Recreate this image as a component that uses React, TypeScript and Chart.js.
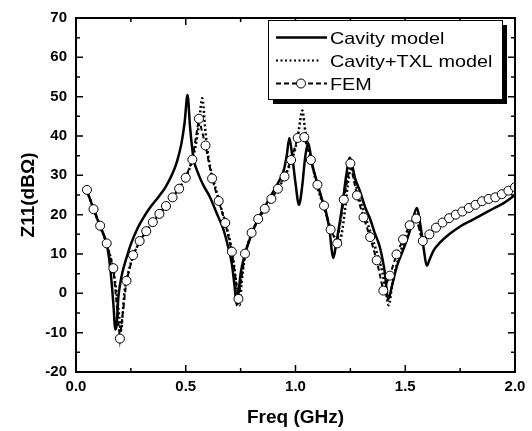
import React, { useEffect, useRef } from "react";
import { Chart, registerables } from "chart.js";

Chart.register(...registerables);

// FEM (circles, dashed)
const femFreq = [
  0.05, 0.08, 0.11, 0.14, 0.17, 0.2, 0.23, 0.26, 0.29, 0.32, 0.35, 0.38, 0.41, 0.44, 0.47, 0.5,
  0.53, 0.56, 0.59, 0.62, 0.65, 0.68, 0.71, 0.74, 0.77, 0.8, 0.83, 0.86, 0.89, 0.92, 0.95, 0.98,
  1.01, 1.04, 1.07, 1.1, 1.13, 1.16, 1.19, 1.22, 1.25, 1.28, 1.31, 1.34, 1.37, 1.4, 1.43, 1.46,
  1.49, 1.52, 1.55, 1.58, 1.61, 1.64, 1.67, 1.7, 1.73, 1.76, 1.79, 1.82, 1.85, 1.88, 1.91, 1.94,
  1.97, 2.0,
];
const femZ = [
  26.3, 21.4, 17.2, 12.7, 6.4, -11.5, 3.2, 9.7, 13.3, 15.8, 18.1, 20.2, 22.2, 24.4, 26.6, 29.4,
  34.0, 44.4, 37.6, 29.2, 23.5, 17.9, 10.6, -1.4, 10.1, 15.4, 18.9, 21.5, 24.0, 26.6, 29.7, 33.9,
  39.5, 39.7, 33.9, 27.6, 22.3, 16.2, 12.7, 23.8, 33.0, 24.9, 19.3, 14.3, 8.4, 0.7, 4.5, 9.9,
  13.7, 17.3, 19.0, 13.3, 15.0, 16.7, 18.0, 19.1, 20.0, 20.8, 21.7, 22.5, 23.4, 24.0, 24.4, 25.2,
  26.1, 27.0,
];

// Cavity model (solid)
const cavFreq = [
  0.05, 0.08, 0.11, 0.14, 0.155, 0.165, 0.172, 0.178, 0.185, 0.193, 0.2, 0.21, 0.23, 0.25, 0.28,
  0.31, 0.34, 0.38, 0.41, 0.44, 0.46, 0.48, 0.495, 0.508, 0.52, 0.535, 0.56, 0.58, 0.61, 0.64,
  0.67, 0.69, 0.71, 0.722, 0.732, 0.74, 0.75, 0.77, 0.8, 0.83, 0.86, 0.89, 0.92, 0.945, 0.96,
  0.972, 0.985, 1.0, 1.016, 1.03, 1.045, 1.058, 1.075, 1.097, 1.12, 1.14, 1.155, 1.165, 1.172,
  1.185, 1.2, 1.215, 1.23, 1.248, 1.27, 1.294, 1.32, 1.339, 1.36, 1.385, 1.405, 1.423, 1.44,
  1.46, 1.49, 1.51, 1.53, 1.552, 1.57, 1.585, 1.598, 1.61, 1.63, 1.66, 1.7, 1.75, 1.8, 1.85, 1.9,
  1.95, 2.0,
];
const cavZ = [
  26.0, 21.5, 17.0, 12.5, 7.0, 1.0, -4.0, -9.2, -8.0, -1.0, 2.0, 5.0, 9.0, 12.5, 16.5,
  19.5, 22.0, 24.8, 27.2, 30.5, 33.5, 38.0, 43.5, 50.4, 42.0, 34.5, 30.0, 27.5, 24.5, 20.5,
  16.5, 12.5, 7.5, 2.0, -3.0, 0.0, 5.0, 10.0, 15.0, 19.0, 22.0, 25.0, 28.0, 31.0, 35.0,
  39.5, 35.0, 28.0, 22.5, 27.0, 35.0, 38.2, 33.0, 28.5, 24.0, 20.5, 16.0, 11.0, 9.0,
  12.5, 17.5, 23.0, 29.5, 34.5, 29.5, 25.9, 21.5, 19.1, 15.5, 11.6, 6.0, -1.5, 2.0,
  6.5, 11.0, 14.0, 17.5, 21.7, 17.0, 11.0, 7.0, 8.5, 11.0, 13.0, 15.0, 17.0, 18.5, 20.0, 21.5,
  23.0, 25.0,
];

// Cavity+TXL model (dotted)
const txlFreq = [
  0.05, 0.08, 0.11, 0.14, 0.17, 0.185, 0.197, 0.205, 0.213, 0.22, 0.235, 0.26, 0.29, 0.32, 0.35,
  0.38, 0.41, 0.44, 0.47, 0.5, 0.525, 0.545, 0.56, 0.575, 0.59, 0.605, 0.63, 0.66, 0.69, 0.71,
  0.725, 0.735, 0.745, 0.755, 0.77, 0.8, 0.83, 0.86, 0.89, 0.92, 0.95, 0.98, 1.0, 1.015, 1.031,
  1.045, 1.06, 1.075, 1.1, 1.13, 1.16, 1.18, 1.195, 1.21, 1.225, 1.24, 1.255, 1.265, 1.28, 1.31,
  1.34, 1.37, 1.395, 1.41, 1.425, 1.44, 1.46, 1.49, 1.52, 1.55, 1.58, 1.61, 1.64, 1.7, 1.76,
  1.82, 1.88, 1.94, 2.0,
];
const txlZ = [
  26.0, 21.5, 17.0, 12.5, 6.0, 0.0, -6.0, -9.5, -5.0, 0.0, 4.5, 9.5, 13.0, 15.8, 18.2,
  20.3, 22.3, 24.5, 26.8, 29.5, 33.0, 37.5, 43.0, 49.6, 41.0, 34.0, 28.0, 22.0, 16.0, 11.0,
  5.0, 0.0, -3.0, 3.0, 9.5, 15.2, 18.8, 21.4, 24.0, 26.6, 29.5, 33.5, 37.0, 41.5, 46.5,
  41.0, 37.0, 33.0, 27.0, 21.8, 16.5, 14.0, 12.5, 15.0, 21.0, 28.5, 32.0, 30.5, 26.5, 21.0,
  15.8, 10.5, 5.5, 1.0, -3.0, 2.0, 7.0, 12.5, 16.5, 19.5, 13.5, 15.0, 16.7, 19.1, 20.8,
  22.5, 24.0, 25.2, 27.0,
];

const legendLabels = ["Cavity model", "Cavity+TXL model", "FEM"];
const xTitle = "Freq (GHz)";
const yTitle = "Z11(dB\u03A9)";

const pts = (xs: number[], ys: number[]) => xs.map((x, i) => ({ x, y: ys[i] }));

const FONT = "'Liberation Sans', Arial, Helvetica, sans-serif";

const decorPlugin = {
  id: "decor",
  afterDraw(chart: any) {
    const { ctx, chartArea: a, scales } = chart;
    const xs = scales.x;
    const ys = scales.y;
    ctx.save();
    ctx.strokeStyle = "#000";
    ctx.lineWidth = 1.5;
    ctx.beginPath();
    for (let i = 0; i <= 8; i++) {
      const v = i * 0.25;
      const px = xs.getPixelForValue(v);
      const len = i % 2 === 0 ? 7 : 4;
      ctx.moveTo(px, a.bottom);
      ctx.lineTo(px, a.bottom - len);
      ctx.moveTo(px, a.top);
      ctx.lineTo(px, a.top + len);
    }
    for (let i = 0; i <= 18; i++) {
      const v = -20 + i * 5;
      const py = ys.getPixelForValue(v);
      const len = i % 2 === 0 ? 7 : 4;
      ctx.moveTo(a.left, py);
      ctx.lineTo(a.left + len, py);
      ctx.moveTo(a.right, py);
      ctx.lineTo(a.right - len, py);
    }
    ctx.stroke();
    ctx.lineWidth = 2;
    ctx.strokeRect(a.left, a.top, a.right - a.left, a.bottom - a.top);

    // legend
    const bx = 268, by = 20, bw = 234, bh = 79;
    ctx.fillStyle = "#000";
    ctx.fillRect(bx + 5, by + 5, bw, bh);
    ctx.fillStyle = "#fff";
    ctx.fillRect(bx, by, bw, bh);
    ctx.lineWidth = 1;
    ctx.strokeStyle = "#000";
    ctx.strokeRect(bx + 0.5, by + 0.5, bw, bh);

    const lineY = [37.5, 60.5, 83.5];
    const baseY = [43.5, 66.5, 89.5];
    // solid
    ctx.lineWidth = 2.5;
    ctx.setLineDash([]);
    ctx.beginPath();
    ctx.moveTo(276, lineY[0]);
    ctx.lineTo(327, lineY[0]);
    ctx.stroke();
    // dotted
    ctx.setLineDash([2, 2.5]);
    ctx.lineWidth = 2;
    ctx.beginPath();
    ctx.moveTo(276, lineY[1]);
    ctx.lineTo(320, lineY[1]);
    ctx.stroke();
    // dashed + circle
    ctx.setLineDash([5, 3]);
    ctx.beginPath();
    ctx.moveTo(276, lineY[2]);
    ctx.lineTo(327, lineY[2]);
    ctx.stroke();
    ctx.setLineDash([]);
    ctx.beginPath();
    ctx.arc(301, lineY[2], 4.5, 0, Math.PI * 2);
    ctx.fillStyle = "#fff";
    ctx.fill();
    ctx.lineWidth = 1;
    ctx.stroke();

    ctx.fillStyle = "#000";
    ctx.font = `16.5px ${FONT}`;
    ctx.textBaseline = "alphabetic";
    ctx.textAlign = "left";
    legendLabels.forEach((t, i) => {
      ctx.save();
      ctx.translate(330, baseY[i]);
      ctx.scale(1.2, 1);
      ctx.fillText(t, 0, 0);
      ctx.restore();
    });
    ctx.restore();
  },
};

export default function App() {
  const ref = useRef<HTMLCanvasElement | null>(null);
  useEffect(() => {
    if (!ref.current) return;
    const chart = new Chart(ref.current, {
      type: "line",
      data: {
        datasets: [
          {
            label: legendLabels[2],
            data: pts(femFreq, femZ),
            borderColor: "#000",
            borderWidth: 2,
            borderDash: [5, 3],
            pointRadius: 4.5,
            pointBorderWidth: 1,
            pointBackgroundColor: "#fff",
            pointBorderColor: "#000",
            tension: 0,
            order: 0,
          },
          {
            label: legendLabels[1],
            data: pts(txlFreq, txlZ),
            borderColor: "#000",
            borderWidth: 2.5,
            borderDash: [2, 2.5],
            pointRadius: 0,
            cubicInterpolationMode: "monotone",
            order: 1,
          },
          {
            label: legendLabels[0],
            data: pts(cavFreq, cavZ),
            borderColor: "#000",
            borderWidth: 2.5,
            pointRadius: 0,
            cubicInterpolationMode: "monotone",
            order: 2,
          },
        ],
      },
      options: {
        responsive: false,
        animation: false,
        events: [],
        layout: { padding: { top: 15, right: 17, left: 0, bottom: 0 } },
        plugins: { legend: { display: false }, tooltip: { enabled: false } },
        scales: {
          x: {
            type: "linear",
            min: 0,
            max: 2,
            grid: { display: false, drawTicks: false },
            border: { display: false },
            ticks: {
              stepSize: 0.5,
              padding: 6,
              color: "#000",
              maxRotation: 0,
              font: { family: FONT, size: 15, weight: "bold" },
              callback: (v: any) => Number(v).toFixed(1),
            },
            title: {
              display: true,
              text: xTitle,
              color: "#000",
              padding: { top: 0, bottom: 2 },
              font: { family: FONT, size: 19, weight: "bold" },
            },
            afterFit: (s: any) => {
              s.height = 59;
            },
          },
          y: {
            type: "linear",
            min: -20,
            max: 70,
            grid: { display: false, drawTicks: false },
            border: { display: false },
            ticks: {
              stepSize: 10,
              padding: 9,
              color: "#000",
              font: { family: FONT, size: 15, weight: "bold" },
            },
            title: {
              display: true,
              text: yTitle,
              color: "#000",
              padding: { top: 17, bottom: 0 },
              font: { family: FONT, size: 19, weight: "bold" },
            },
            afterFit: (s: any) => {
              s.width = 76;
            },
          },
        },
      },
      plugins: [decorPlugin],
    } as any);
    return () => chart.destroy();
  }, []);
  return (
    <div style={{ position: "absolute", left: 0, top: 0, width: 532, height: 431, background: "#fff" }}>
      <canvas ref={ref} width={532} height={431} />
    </div>
  );
}
